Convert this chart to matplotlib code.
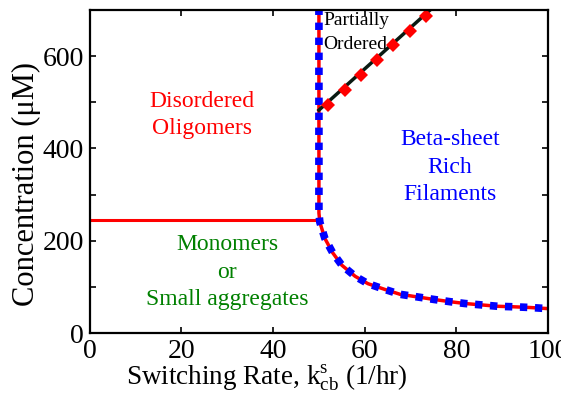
import matplotlib
matplotlib.use("Agg")
import matplotlib.pyplot as plt
import numpy as np

plt.rcParams['font.family'] = ['Liberation Serif', 'DejaVu Serif']
plt.rcParams['mathtext.fontset'] = 'custom'
plt.rcParams['mathtext.rm'] = 'Liberation Serif'
plt.rcParams['mathtext.it'] = 'Liberation Serif:italic'
plt.rcParams['lines.scale_dashes'] = False

# horizontal boundary (monomers / disordered oligomers)
horiz_x = [0, 50]
horiz_y = [245, 245]

# main boundary (vertical at ~50 then decaying curve)
bound_x = [50.0, 50.0, 50.0, 50.2, 51.3, 53.0, 55.0, 57.9, 60.7, 64.4, 67.7,
           71.3, 75.0, 78.6, 81.9, 85.5, 89.1, 92.4, 95.9, 100.0]
bound_y = [705, 400, 260, 240, 205, 174, 147, 123, 107, 94.5, 84,
           78.6, 73, 68, 64, 61, 58, 57, 55.5, 53]

# partially ordered boundary
po_x = [50.0, 74.5]
po_y = [483, 702]
po_mark_x = [52.0, 55.6, 59.2, 62.7, 66.2, 69.9, 73.4]
po_mark_y = [493, 526, 558, 591, 623, 654, 687]

fig = plt.figure(figsize=(5.61, 3.97), dpi=100)
ax = fig.add_axes([0.160, 0.161, 0.817, 0.814])

ax.plot(horiz_x, horiz_y, color='#ff0000', lw=2.2, solid_capstyle='butt')
ax.plot(bound_x, bound_y, color='#ff0000', lw=2.5)
ax.plot(bound_x, bound_y, color='#0000ff', lw=5.5, linestyle=(0, (5.3, 5.5)),
        dash_capstyle='butt')
ax.plot(po_x, po_y, color='#0a1a12', lw=2.5)
ax.plot(po_mark_x, po_mark_y, linestyle='none', marker='D', color='#ff0000',
        markersize=7.5, markeredgewidth=0)

ax.set_xlim(0, 100)
ax.set_ylim(0, 700)
ax.set_xticks([0, 20, 40, 60, 80, 100])
ax.set_yticks([0, 200, 400, 600])
ax.set_yticks([100, 300, 500], minor=True)
ax.tick_params(which='both', direction='in', top=True, right=True,
               length=4, width=1.2, labelsize=20, pad=4)
for s in ax.spines.values():
    s.set_linewidth(1.6)

ax.set_ylabel('Concentration (μM)', fontsize=22, labelpad=1, y=0.46)
ax.set_xlabel(r'Switching Rate, $\mathrm{k}_{\mathrm{cb}}^{\mathrm{s}}$ (1/hr)',
              fontsize=19.5, labelpad=-1, x=0.386)

ax.text(24.4, 472, 'Disordered\nOligomers', color='#ff0000', fontsize=17,
        ha='center', va='center', linespacing=1.4)
ax.text(78.6, 359, 'Beta-sheet\nRich\nFilaments', color='#0000ff', fontsize=17,
        ha='center', va='center', linespacing=1.4)
ax.text(30.0, 132, 'Monomers\nor\nSmall aggregates', color='#008000', fontsize=17,
        ha='center', va='center', linespacing=1.4)
ax.text(50.9, 652, 'Partially\nOrdered', color='black', fontsize=14,
        ha='left', va='center', linespacing=1.55)

fig.savefig('out.png', dpi=100)
